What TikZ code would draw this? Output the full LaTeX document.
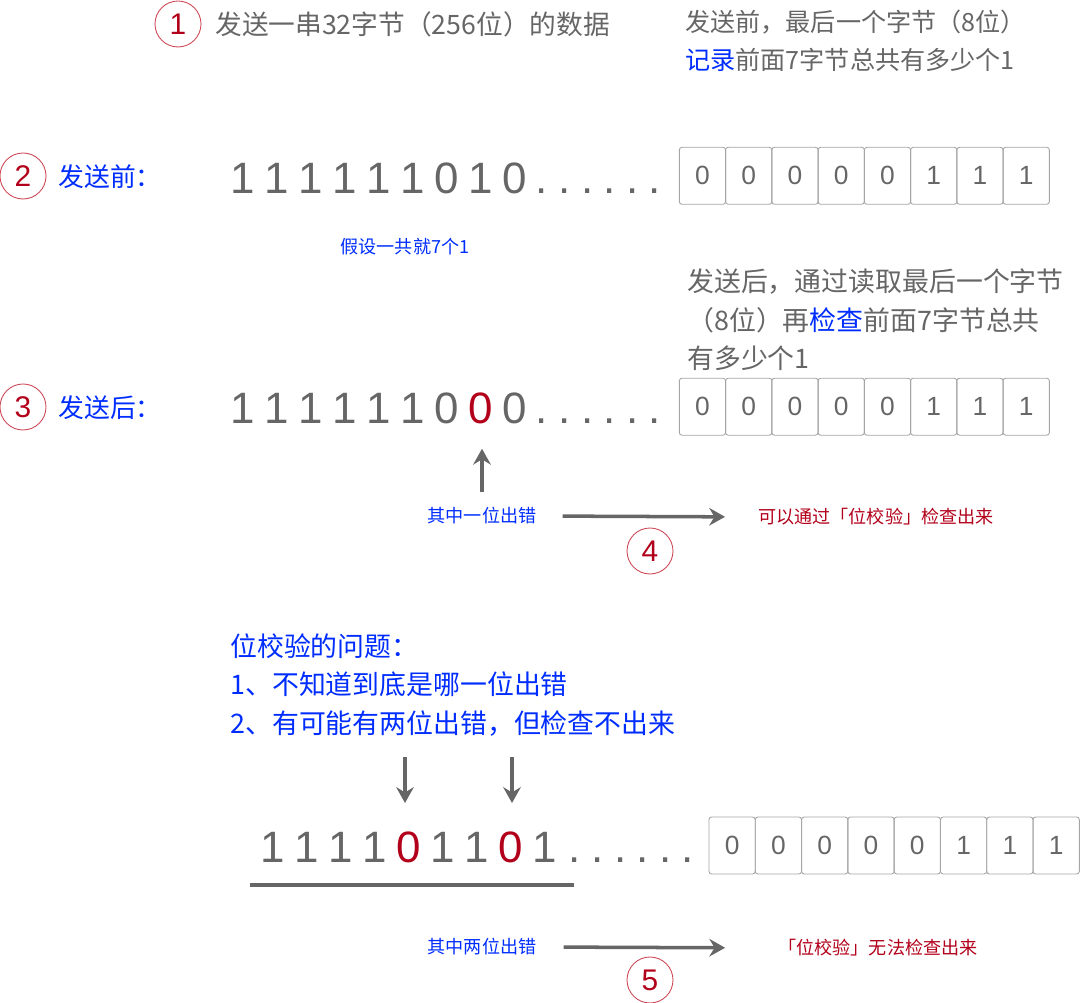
\documentclass[tikz,border=0pt]{standalone}
\usepackage{fontspec}
\setmainfont{Noto Sans CJK SC}
\newfontfamily\digitfont{Liberation Sans}
\usetikzlibrary{arrows.meta}
\definecolor{Txt}{RGB}{102,102,102}
\definecolor{Blue}{RGB}{0,45,255}
\definecolor{Red}{RGB}{178,0,26}
\definecolor{Ring}{RGB}{205,70,85}
\definecolor{Edge}{RGB}{165,165,165}

\begin{document}
\begin{tikzpicture}[x=.02cm,y=-.02cm,
  numc/.style={circle,draw=Ring,line width=.5pt,minimum size=.92cm,inner sep=0pt,text=Red,font=\digitfont\fontsize{17}{17}\selectfont},
  big/.style={anchor=base,text=Txt,inner sep=0pt,font=\digitfont\fontsize{25}{25}\selectfont},
  cell/.style={draw=Edge,rounded corners=1.5pt,line width=.5pt,minimum width=.925cm,minimum height=1.14cm,inner sep=0pt,text=Txt,font=\digitfont\fontsize{15}{15}\selectfont},
  txt/.style={text=Txt,inner sep=0pt,anchor=west,align=left,font=\fontsize{14.7}{21.5}\selectfont},
  lbl/.style={text=Blue,inner sep=0pt,anchor=west,font=\fontsize{14.7}{21.5}\selectfont},
  small/.style={inner sep=0pt,font=\fontsize{10.3}{12}\selectfont},
  arr/.style={-{Stealth[length=9pt,width=10pt,inset=3pt]},draw=Txt,line width=2pt}]
\useasboundingbox (0,0) rectangle (1080,1003);

% step 1
\node[numc] (c1) at (178,24) {1};
\node[txt,font=\fontsize{15.2}{21.5}\selectfont] (title) at (215,24) {发送一串32字节（256位）的数据};
\node[txt,font=\fontsize{14.3}{21.5}\selectfont] (note1) at (685,41) {发送前，最后一个字节（8位）\\{\color{Blue}记录}前面7字节总共有多少个1};

% step 2: before sending
\node[numc] (c2) at (23,176) {2};
\node[lbl] (before) at (58,177) {发送前：};
\foreach \d [count=\i] in {1,1,1,1,1,1,0,1,0}
  \node[big] (d2\i) at (209+34*\i,194) {\d};
\foreach \i in {0,...,5}
  \node[big] (p2\i) at (542+22.6*\i,194) {.};
\foreach \v [count=\i] in {0,0,0,0,0,1,1,1}
  \node[cell] (b2\i) at (656.2+46.25*\i,175.8) {\v};
\node[small,text=Blue] (assume) at (405,247) {假设一共就7个1};

% step 3: after sending
\node[txt,font=\fontsize{15.3}{21.8}\selectfont] (note2) at (687,320) {发送后，通过读取最后一个字节\\（8位）再{\color{Blue}检查}前面7字节总共\\有多少个1};
\node[numc] (c3) at (23,407) {3};
\node[lbl] (after) at (58,408) {发送后：};
\foreach \d [count=\i] in {1,1,1,1,1,1,0,{\color{Red}0},0}
  \node[big] (d3\i) at (209+34*\i,424) {\d};
\foreach \i in {0,...,5}
  \node[big] (p3\i) at (542+22.6*\i,424) {.};
\foreach \v [count=\i] in {0,0,0,0,0,1,1,1}
  \node[cell] (b3\i) at (656.2+46.25*\i,406.7) {\v};

% step 4
\node[small,text=Blue] (err1) at (482,516) {其中一位出错};
\node[small,text=Red] (ok1) at (876,517) {可以通过「位校验」检查出来};
\draw[arr,shorten <=.3cm,shorten >=.48cm] (err1.north) -- (err1.north |- d38.south);
\draw[arr,shorten <=.52cm,shorten >=.66cm] (err1.east) -- (ok1.west);
\node[numc] (c4) at (650,551) {4};

% problems of the parity bit
\node[lbl,align=left,font=\fontsize{15.3}{22}\selectfont] (issue) at (230,685)
  {位校验的问题：\\1、不知道到底是哪一位出错\\2、有可能有两位出错，但检查不出来};
\coordinate (t1) at (405,757);
\coordinate (h1) at (405,803);
\coordinate (t2) at (512,757);
\coordinate (h2) at (512,803);
\draw[arr] (t1) -- (h1);
\draw[arr] (t2) -- (h2);

% step 5: two bits flipped
\foreach \d [count=\i] in {1,1,1,1,{\color{Red}0},1,1,{\color{Red}0},1}
  \node[big] (d5\i) at (239+34*\i,863) {\d};
\foreach \i in {0,...,5}
  \node[big] (p5\i) at (575+22.6*\i,863) {.};
\foreach \v [count=\i] in {0,0,0,0,0,1,1,1}
  \node[cell] (b5\i) at (685.8+46.3*\i,845.5) {\v};
\coordinate (u1) at (250,885);
\coordinate (u2) at (574,885);
\draw[Txt,line width=2.2pt] (u1) -- (u2);

\node[small,text=Blue] (err2) at (482,947) {其中两位出错};
\node[small,text=Red] (bad2) at (878,948) {「位校验」无法检查出来};
\draw[arr,shorten <=.54cm,shorten >=1.06cm] (err2.east) -- (bad2.west);
\node[numc] (c5) at (650,980) {5};
\end{tikzpicture}
\end{document}
